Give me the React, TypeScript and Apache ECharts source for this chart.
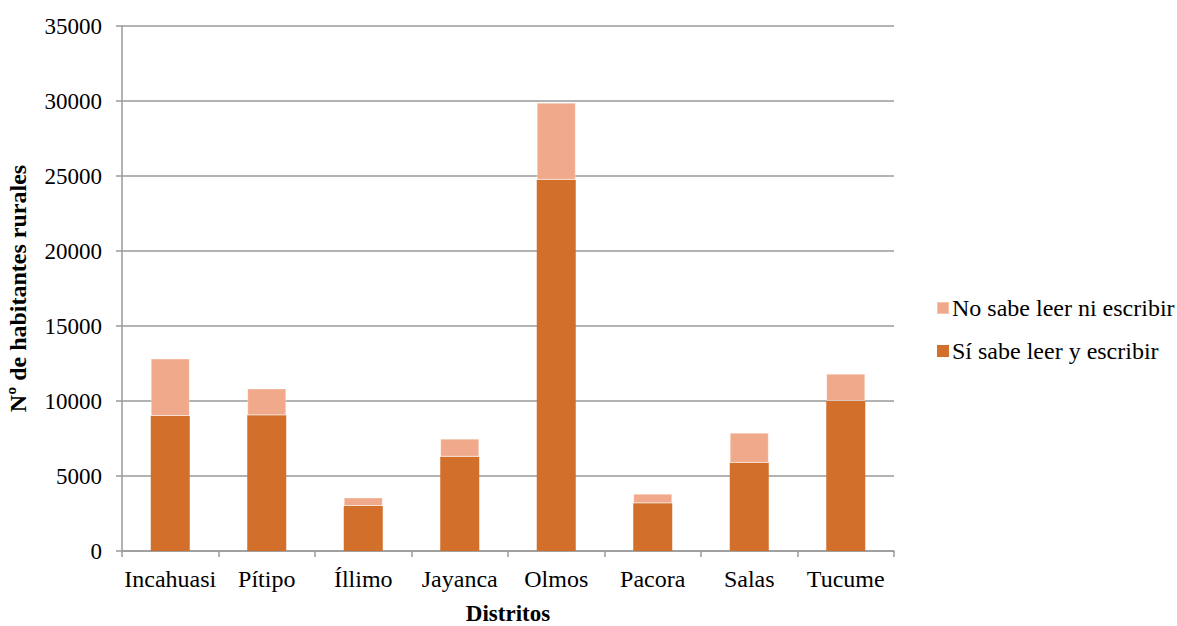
import React, { useEffect, useRef } from "react";
import * as echarts from "echarts";

// Rural inhabitants by district and literacy
const districts = ["Incahuasi", "Pítipo", "Íllimo", "Jayanca", "Olmos", "Pacora", "Salas", "Tucume"];
const literate = [9000, 9050, 3000, 6290, 24750, 3190, 5880, 10000];
const illiterate = [3830, 1780, 570, 1200, 5130, 620, 2000, 1820];
const yTicks = { min: 0, max: 35000, interval: 5000 };

const FONT = "Times New Roman";
const DARK = "#D26F2A";
const LIGHT = "#F1A98B";

export default function App() {
  const ref = useRef<HTMLDivElement>(null);

  useEffect(() => {
    if (!ref.current) return;
    const chart = echarts.init(ref.current, undefined, { renderer: "svg" });
    chart.setOption({
      animation: false,
      backgroundColor: "#ffffff",
      textStyle: { fontFamily: FONT },
      grid: {
        left: 122,
        top: 26,
        width: 772,
        height: 525,
        containLabel: false,
        outerBoundsMode: "none",
      },
      legend: {
        orient: "vertical",
        left: 931,
        top: 291,
        itemWidth: 12,
        itemHeight: 12,
        itemGap: 19,
        icon: "rect",
        data: ["No sabe leer ni escribir", "Sí sabe leer y escribir"],
        textStyle: { fontFamily: FONT, fontSize: 24, fontWeight: "normal", color: "#000", padding: [0, 0, 0, -2] },
      },
      xAxis: {
        type: "category",
        data: districts,
        name: "Distritos",
        nameLocation: "middle",
        nameGap: 51,
        nameTextStyle: { fontFamily: FONT, fontSize: 23, fontWeight: "bold", color: "#000" },
        axisLine: { lineStyle: { color: "#9a9a9a", width: 1.5 } },
        axisTick: { show: true, alignWithLabel: false, length: 6, lineStyle: { color: "#9a9a9a", width: 1.5 } },
        axisLabel: { fontFamily: FONT, fontSize: 24, fontWeight: "normal", color: "#000", margin: 16, interval: 0 },
      },
      yAxis: {
        type: "value",
        min: yTicks.min,
        max: yTicks.max,
        interval: yTicks.interval,
        name: "Nº de habitantes rurales",
        nameLocation: "middle",
        nameRotate: 90,
        nameGap: 92,
        nameTextStyle: { fontFamily: FONT, fontSize: 24, fontWeight: "bold", color: "#000" },
        axisLine: { show: true, lineStyle: { color: "#9a9a9a", width: 1.5 } },
        axisTick: { show: true, length: 6, lineStyle: { color: "#9a9a9a", width: 1.5 } },
        axisLabel: {
          fontFamily: FONT,
          fontSize: 23,
          fontWeight: "normal",
          color: "#000",
          margin: 20,
          formatter: (v: number) => String(v),
        },
        splitLine: { show: true, lineStyle: { color: "#9a9a9a", width: 1.5 } },
      },
      series: [
        {
          name: "Sí sabe leer y escribir",
          type: "bar",
          stack: "total",
          data: literate,
          barWidth: 39,
          itemStyle: { color: DARK },
        },
        {
          name: "No sabe leer ni escribir",
          type: "bar",
          stack: "total",
          data: illiterate,
          barWidth: 39,
          itemStyle: { color: LIGHT, borderColor: "rgba(255,255,255,0.3)", borderWidth: 1 },
        },
      ],
    });
    return () => chart.dispose();
  }, []);

  return (
    <div
      ref={ref}
      style={{ position: "fixed", left: 0, top: 0, width: 1177, height: 626, background: "#fff" }}
    />
  );
}
